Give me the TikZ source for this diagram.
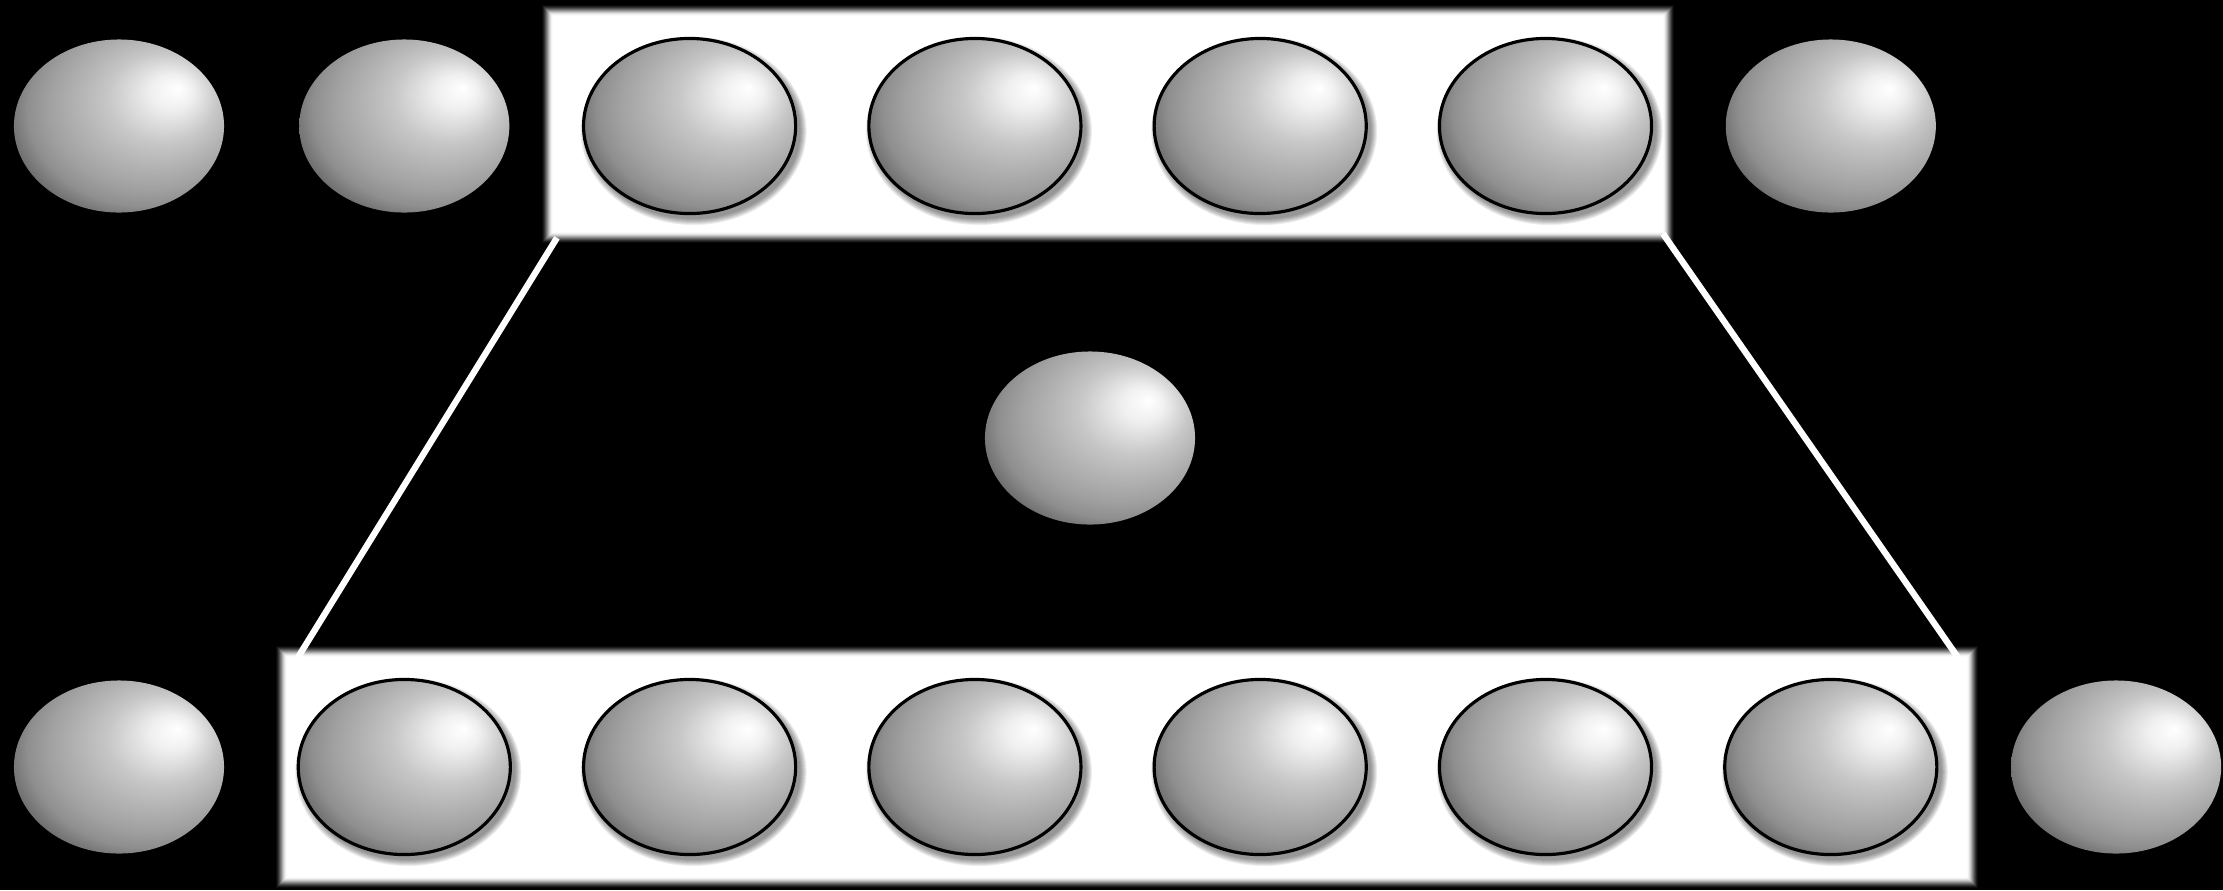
\documentclass[tikz,border=0pt]{standalone}
\usepackage{tikz}
\usetikzlibrary{shapes.geometric, calc}
\pgfdeclareradialshading{egg}{\pgfpoint{14bp}{11bp}}{color(0bp)=(white); color(5bp)=(black!6); color(13bp)=(black!22); color(18bp)=(black!29); color(24bp)=(black!37); color(28bp)=(black!44); color(32bp)=(black!58); color(50bp)=(black!75)}

\begin{document}
\begin{tikzpicture}[
    x=0.01cm, y=-0.01cm,
    ball/.style={ellipse, shade, shading=egg, inner sep=0pt, minimum width=2.1cm, minimum height=1.73cm},
    cell/.style={ball, draw=black, line width=0.9pt, minimum width=2.12cm, minimum height=1.75cm},
    panel/.style={rectangle, inner sep=0pt},
    link/.style={white, line width=1.8pt}
  ]
    \fill[black] (0,0) rectangle (2223,890);
    \node[panel, minimum width=11.2cm, minimum height=2.26cm] (topbox) at (1108,124) {};
    \node[panel, minimum width=16.9cm, minimum height=2.3cm] (botbox) at (1127,767) {};
    \foreach \bx in {topbox, botbox}
      \foreach \k/\o in {0/1, 1/0.88, 2/0.62, 3/0.45, 4/0.35, 5/0.28, 6/0.22, 7/0.18, 8/0.14, 9/0.105, 10/0.072, 11/0.038}
        \fill[white, opacity=\o] ($(\bx.north west)+(6-\k,6-\k)$) rectangle ($(\bx.south east)+(\k-6,\k-6)$);
    \foreach \k in {0,...,6} {
      \foreach \i in {2,...,5}
        \fill[black, opacity=0.07] (119+285.3*\i+4,131) ellipse [x radius=107+\k, y radius=88+\k];
      \foreach \i in {1,...,6}
        \fill[black, opacity=0.07] (119+285.3*\i+4,772) ellipse [x radius=107+\k, y radius=88+\k];
    }
    \foreach \i in {0,1,6}
      \node[ball] (t\i) at (119+285.3*\i,126) {};
    \foreach \i in {2,...,5}
      \node[cell] (t\i) at (119+285.3*\i,126) {};
    \foreach \i in {0,7}
      \node[ball] (b\i) at (119+285.3*\i,767) {};
    \foreach \i in {1,...,6}
      \node[cell] (b\i) at (119+285.3*\i,767) {};
    \node[ball] (mid) at (1090,438) {};
    \draw[link] ($(topbox.south west)+(10,0)$) -- ($(botbox.north west)+(16,8)$);
    \draw[link] ($(topbox.south east)+(-6,-4)$) -- ($(botbox.north east)+(-14,8)$);
\end{tikzpicture}
\end{document}
